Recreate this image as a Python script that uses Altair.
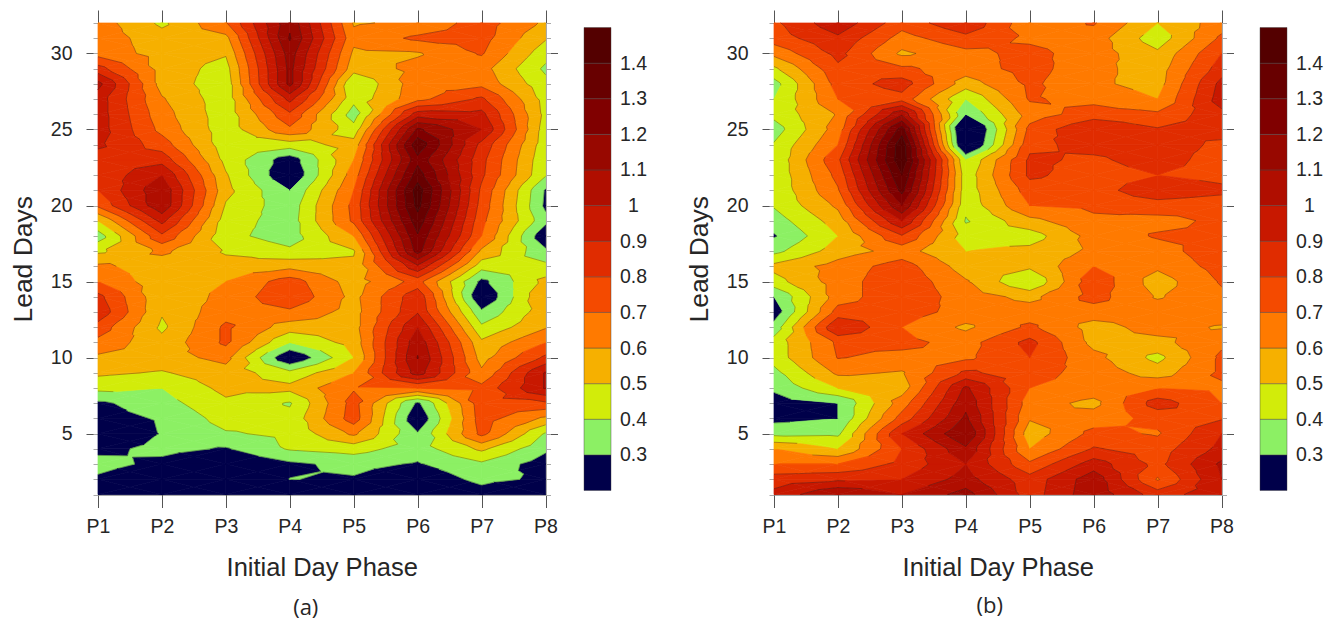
import altair as alt
import pandas as pd

alt.data_transformers.disable_max_rows()

PHASES = [1, 2, 3, 4, 5, 6, 7, 8]
DAYS = list(range(32, 0, -1))
LEVELS = [0.3, 0.4, 0.5, 0.6, 0.7, 0.8, 0.9, 1.0, 1.1, 1.2, 1.3, 1.4]
COLORS = ["#00004a", "#8cf064", "#d2ec0a", "#f6b000", "#ff7a00", "#f44a00", "#e02c00",
          "#c81800", "#b00e00", "#980800", "#800000", "#680000", "#540000"]

# Panel (a): one row per lead day (32 down to 1), columns P1..P8
a_rows = [
    [.65, .48, .69, 1.18, .59, .62, .75, .58],
    [.66, .54, .57, 1.21, .63, .72, .74, .51],
    [.66, .56, .51, 1.15, .58, .59, .71, .44],
    [.84, .56, .46, 1.13, .54, .63, .64, .38],
    [1.03, .56, .44, 1.13, .40, .66, .67, .43],
    [.95, .61, .44, .93, .43, .67, .82, .46],
    [.95, .64, .44, .78, .35, .95, .93, .47],
    [.95, .67, .44, .68, .44, 1.22, 1.0, .45],
    [.92, .75, .44, .45, .54, 1.37, .87, .44],
    [.85, .86, .47, .24, .60, 1.27, .83, .42],
    [.82, 1.0, .51, .20, .65, 1.35, .82, .41],
    [.80, 1.08, .53, .30, .70, 1.45, .78, .29],
    [.72, 1.08, .49, .34, .73, 1.43, .76, .28],
    [.50, .93, .45, .35, .72, 1.36, .73, .33],
    [.35, .78, .43, .35, .60, 1.29, .70, .22],
    [.48, .62, .49, .42, .49, 1.24, .58, .32],
    [.62, .55, .53, .57, .52, .98, .44, .43],
    [.70, .53, .60, .75, .55, .74, .27, .53],
    [.83, .52, .63, .78, .57, .87, .20, .60],
    [.87, .51, .66, .68, .56, .89, .32, .56],
    [.76, .48, .72, .55, .56, 1.0, .42, .59],
    [.67, .53, .72, .40, .54, 1.07, .52, .70],
    [.58, .56, .63, .20, .50, 1.105, .56, .82],
    [.52, .49, .56, .43, .60, 1.05, .62, 1.01],
    [.43, .40, .53, .53, .69, .70, .73, 1.01],
    [.28, .36, .48, .39, .74, .28, .76, .78],
    [.26, .31, .44, .43, .75, .21, .75, .58],
    [.20, .305, .39, .42, .62, .31, .73, .39],
    [.27, .33, .29, .41, .44, .35, .52, .32],
    [.34, .27, .20, .28, .33, .29, .38, .247],
    [.28, .20, .15, .302, .29, .22, .33, .28],
    [.20, .15, .15, .15, .15, .15, .25, .15],
]

# Panel (b)
b_rows = [
    [.78, .97, .74, .88, .63, .71, .50, .65],
    [.75, .88, .66, .77, .68, .65, .44, .72],
    [.63, .83, .58, .67, .73, .65, .52, .80],
    [.48, .78, .72, .65, .74, .63, .55, .85],
    [.36, .74, .85, .55, .72, .62, .56, .93],
    [.40, .70, .76, .40, .71, .67, .60, .95],
    [.43, .61, 1.08, .30, .65, .75, .72, .87],
    [.35, .65, 1.35, .09, .73, .90, .81, .84],
    [.41, .70, 1.47, .12, .77, .84, .85, .78],
    [.42, .78, 1.48, .40, .82, .78, .85, .75],
    [.42, .73, 1.40, .44, .82, .75, .80, .76],
    [.42, .69, 1.33, .44, .75, .75, .88, .83],
    [.41, .62, 1.20, .43, .70, .72, .75, .73],
    [.35, .55, 1.00, .39, .57, .68, .67, .72],
    [.29, .50, .79, .45, .45, .64, .71, .71],
    [.37, .55, .64, .50, .53, .62, .66, .76],
    [.53, .64, .75, .55, .52, .70, .62, .74],
    [.46, .65, .78, .61, .40, .77, .55, .71],
    [.30, .65, .78, .65, .57, .74, .59, .68],
    [.24, .74, .75, .66, .65, .65, .65, .66],
    [.34, .90, .70, .58, .72, .56, .64, .59],
    [.44, .72, .73, .66, .83, .57, .57, .68],
    [.44, .705, .67, .68, .80, .63, .47, .72],
    [.37, .62, .59, .82, .74, .66, .55, .72],
    [.32, .50, .55, 1.02, .70, .66, .70, .68],
    [.25, .30, .65, 1.07, .65, .57, .85, .70],
    [.27, .30, .74, 1.12, .61, .65, .73, .79],
    [.37, .38, .90, 1.20, .54, .73, .69, .90],
    [.60, .50, .80, 1.08, .60, .81, .75, .93],
    [.70, .70, .83, 1.00, .72, .95, .77, 1.02],
    [.85, .88, .90, 1.04, .84, 1.06, .69, 1.00],
    [.93, 1.10, 1.00, 1.14, .85, 1.07, .85, .97],
]

PLOT_W, PLOT_H = 447.5, 471.5
BAR_W = 27
INK = "#262626"
SANS = "Liberation Sans"


def clip(poly, level, above):
    out = []
    n = len(poly)
    for i in range(n):
        p, q = poly[i], poly[(i + 1) % n]
        pin = p[2] >= level if above else p[2] <= level
        qin = q[2] >= level if above else q[2] <= level
        if pin:
            out.append(p)
        if pin != qin:
            t = (level - p[2]) / (q[2] - p[2])
            out.append((p[0] + t * (q[0] - p[0]), p[1] + t * (q[1] - p[1]), level))
    return out


def contour_tables(rows):
    by_day = {d: r for d, r in zip(DAYS, rows)}
    verts, segs = [], []
    pid = 0
    edges = [-10.0] + LEVELS + [10.0]
    for d in range(1, 32):
        for c in range(7):
            a = (c + 1, d, by_day[d][c])
            b = (c + 2, d, by_day[d][c + 1])
            e = (c + 2, d + 1, by_day[d + 1][c + 1])
            f = (c + 1, d + 1, by_day[d + 1][c])
            m = (c + 1.5, d + 0.5, (a[2] + b[2] + e[2] + f[2]) / 4)
            for tri in ([a, b, m], [b, e, m], [e, f, m], [f, a, m]):
                vmin = min(v[2] for v in tri)
                vmax = max(v[2] for v in tri)
                for band in range(13):
                    lo, hi = edges[band], edges[band + 1]
                    if vmax < lo or vmin > hi:
                        continue
                    poly = clip(clip(tri, lo, True), hi, False)
                    if len(poly) < 3:
                        continue
                    for k, v in enumerate(poly):
                        verts.append({"pid": pid, "k": k, "x": round(v[0], 4), "y": round(v[1], 4), "band": band})
                    pid += 1
                for lv in LEVELS:
                    pts = []
                    for i in range(3):
                        p, q = tri[i], tri[(i + 1) % 3]
                        if (p[2] - lv) * (q[2] - lv) < 0:
                            t = (lv - p[2]) / (q[2] - p[2])
                            pts.append((p[0] + t * (q[0] - p[0]), p[1] + t * (q[1] - p[1])))
                    if len(pts) == 2:
                        segs.append({"x": round(pts[0][0], 4), "y": round(pts[0][1], 4),
                                     "x2": round(pts[1][0], 4), "y2": round(pts[1][1], 4)})
    return pd.DataFrame(verts), pd.DataFrame(segs)


X_SCALE = alt.Scale(domain=[1, 8], nice=False, zero=False)
Y_SCALE = alt.Scale(domain=[1, 32], nice=False, zero=False)
ANCHOR = pd.DataFrame({"x": [1], "y": [1]})


def axis_layer(x_axis=None, y_axis=None):
    return alt.Chart(ANCHOR).mark_point(opacity=0).encode(
        x=alt.X("x:Q", scale=X_SCALE, axis=x_axis),
        y=alt.Y("y:Q", scale=Y_SCALE, axis=y_axis),
    )


def panel(rows, tag, tag_dx, tag_offset):
    verts, segs = contour_tables(rows)
    fills = alt.Chart(verts).mark_line(interpolate="linear-closed", strokeWidth=0.7).encode(
        x=alt.X("x:Q", scale=X_SCALE, axis=None),
        y=alt.Y("y:Q", scale=Y_SCALE, axis=None),
        order="k:Q",
        detail="pid:N",
        fill=alt.Fill("band:O", scale=alt.Scale(domain=list(range(13)), range=COLORS), legend=None),
        stroke=alt.Stroke("band:O", scale=alt.Scale(domain=list(range(13)), range=COLORS), legend=None),
    )
    lines = alt.Chart(segs).mark_rule(color="#202020", strokeWidth=0.6, opacity=0.55).encode(
        x=alt.X("x:Q", scale=X_SCALE, axis=None),
        x2="x2:Q",
        y=alt.Y("y:Q", scale=Y_SCALE, axis=None),
        y2="y2:Q",
    )
    common = dict(grid=False, domainColor="#555555", domainWidth=1, tickWidth=1, tickColor="#555555")
    x_bottom = alt.Axis(orient="bottom", values=PHASES, labelExpr="'P' + datum.value", tickSize=13,
                        labelFont=SANS, labelFontSize=19.5, labelColor=INK, labelPadding=10,
                        title="Initial Day Phase", titleFont=SANS, titleFontSize=25.5, titleFontWeight="normal",
                        titleColor=INK, titlePadding=19, labelFlush=False, labelOverlap=False, **common)
    x_top = alt.Axis(orient="top", values=PHASES, labels=False, tickSize=13, title=None, **common)
    y_left = alt.Axis(orient="left", values=[5, 10, 15, 20, 25, 30], tickSize=12,
                      labelFont=SANS, labelFontSize=19.5, labelColor=INK, labelPadding=14,
                      title="Lead Days", titleFont=SANS, titleFontSize=26.5, titleFontWeight="normal",
                      titleColor=INK, titlePadding=13, **common)
    minor = dict(grid=False, domain=False, labels=False, tickSize=5, tickColor="#aaaaaa", tickWidth=1, title=None)
    y_left_minor = alt.Axis(orient="left", values=DAYS, **minor)
    y_right = alt.Axis(orient="right", values=[5, 10, 15, 20, 25, 30], labels=False, tickSize=12, title=None, **common)
    y_right_minor = alt.Axis(orient="right", values=DAYS, **minor)
    layers = [
        fills, lines,
        axis_layer(x_axis=x_bottom, y_axis=y_left),
        axis_layer(x_axis=x_top, y_axis=y_right),
        axis_layer(y_axis=y_left_minor),
        axis_layer(y_axis=y_right_minor),
    ]
    return alt.layer(*layers).resolve_axis(x="independent", y="independent").properties(
        width=PLOT_W, height=PLOT_H,
        title=alt.TitleParams(tag, orient="bottom", anchor="middle", font="Open Sans", fontSize=22,
                              fontWeight="normal", color=INK, dx=tag_dx, offset=tag_offset),
    )


BAR = pd.DataFrame({"lo": [0.2] + LEVELS, "hi": LEVELS + [1.5], "band": list(range(13))})


def colorbar():
    return alt.Chart(BAR).mark_rect(stroke="#404040", strokeWidth=0.6, strokeOpacity=0.7).encode(
        x=alt.value(0), x2=alt.value(BAR_W),
        y=alt.Y("lo:Q", scale=alt.Scale(domain=[0.2, 1.5], nice=False, zero=False, range=[467.5, 4.5]),
                axis=alt.Axis(orient="right", values=LEVELS, labelExpr="format(datum.value, '~g')",
                              domain=False, ticks=False, grid=False, title=None, labelFont=SANS,
                              labelFontSize=19.5, labelColor=INK, labelAlign="center", labelPadding=22)),
        y2="hi:Q",
        fill=alt.Fill("band:O", scale=alt.Scale(domain=list(range(13)), range=COLORS), legend=None),
    ).properties(width=BAR_W, height=PLOT_H)


def spacer(w):
    return alt.Chart(ANCHOR).mark_point(opacity=0).encode(
        x=alt.X("x:Q", axis=None), y=alt.Y("y:Q", axis=None)
    ).properties(width=w, height=10)


chart = alt.hconcat(
    panel(a_rows, "(a)", -16, 17), spacer(37.5), colorbar(), spacer(163),
    panel(b_rows, "(b)", -8, 15), spacer(38), colorbar(),
    spacing=0, bounds="flush",
).properties(padding={"left": 2, "top": 1, "right": 5, "bottom": 0}).configure_view(stroke=None)

chart.save("out.html", embed_options={"renderer": "svg", "actions": False})
